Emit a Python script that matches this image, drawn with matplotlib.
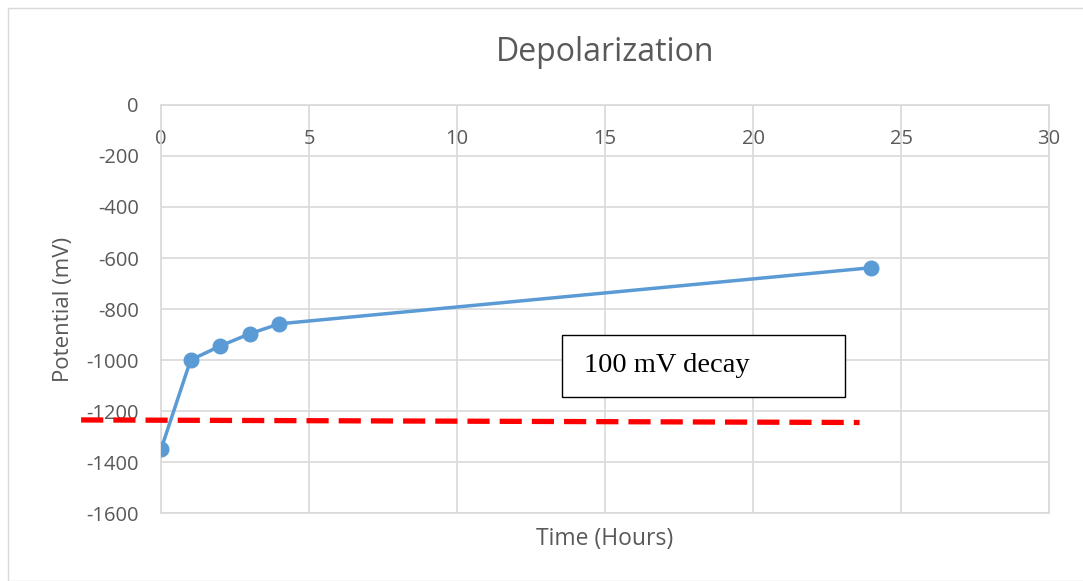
import matplotlib.pyplot as plt
from matplotlib.patches import Rectangle

plt.rcParams['axes.unicode_minus'] = False

hours = [0, 1, 2, 3, 4, 24]
potential = [-1350, -1000, -945, -897, -858, -638]

# criterion line, drawn by hand in the original
crit_x = [-2.7, 23.6]
crit_y = [-1235, -1245]

x_ticks = [0, 5, 10, 15, 20, 25, 30]
y_ticks = [0, -200, -400, -600, -800, -1000, -1200, -1400, -1600]

grey = '#595959'
grid = '#d9d9d9'

fig = plt.figure(figsize=(10.83, 5.81), dpi=100)
ax = fig.add_axes([0.1487, 0.117, 0.8199, 0.7023])

fig.patches.append(Rectangle((8 / 1083, 0.0), 1.0, 1 - 8 / 581, transform=fig.transFigure,
                             fill=False, edgecolor=grid, linewidth=1))

ax.plot(hours, potential, color='#5b9bd5', linewidth=2.5, marker='o', markersize=10.5, zorder=3)
ax.plot(crit_x, crit_y, color='red', linewidth=3.8, dashes=(4.2, 1.9), clip_on=False, zorder=4)

ax.set_xlim(0, 30)
ax.set_ylim(-1600, 0)
ax.set_xticks(x_ticks)
ax.set_yticks(y_ticks)
ax.grid(True, color=grid, linewidth=1.2)
ax.set_axisbelow(True)
for s in ax.spines.values():
    s.set_color(grid)
    s.set_linewidth(1.2)

ax.tick_params(axis='x', top=True, labeltop=True, bottom=False, labelbottom=False,
               length=0, pad=-32, labelsize=14.5, labelcolor=grey)
ax.tick_params(axis='y', length=0, pad=16, labelsize=14.5, labelcolor=grey)
for lab in ax.get_xticklabels() + ax.get_yticklabels():
    lab.set_family('Open Sans')

ax.set_title('Depolarization', fontsize=23, color=grey, family='Open Sans', pad=32)
ax.set_xlabel('Time (Hours)', fontsize=16.5, color=grey, family='Open Sans', labelpad=10)
ax.set_ylabel('Potential (mV)', fontsize=16, color=grey, family='Open Sans', labelpad=9)

ax.add_patch(Rectangle((13.55, -1145), 9.55, 243, facecolor='white', edgecolor='black',
                       linewidth=1, zorder=5))
ax.text(14.3, -1020, '100 mV decay', fontsize=20.5, family='Liberation Serif',
        va='center', ha='left', zorder=6)

fig.savefig('out.png', dpi=100)
